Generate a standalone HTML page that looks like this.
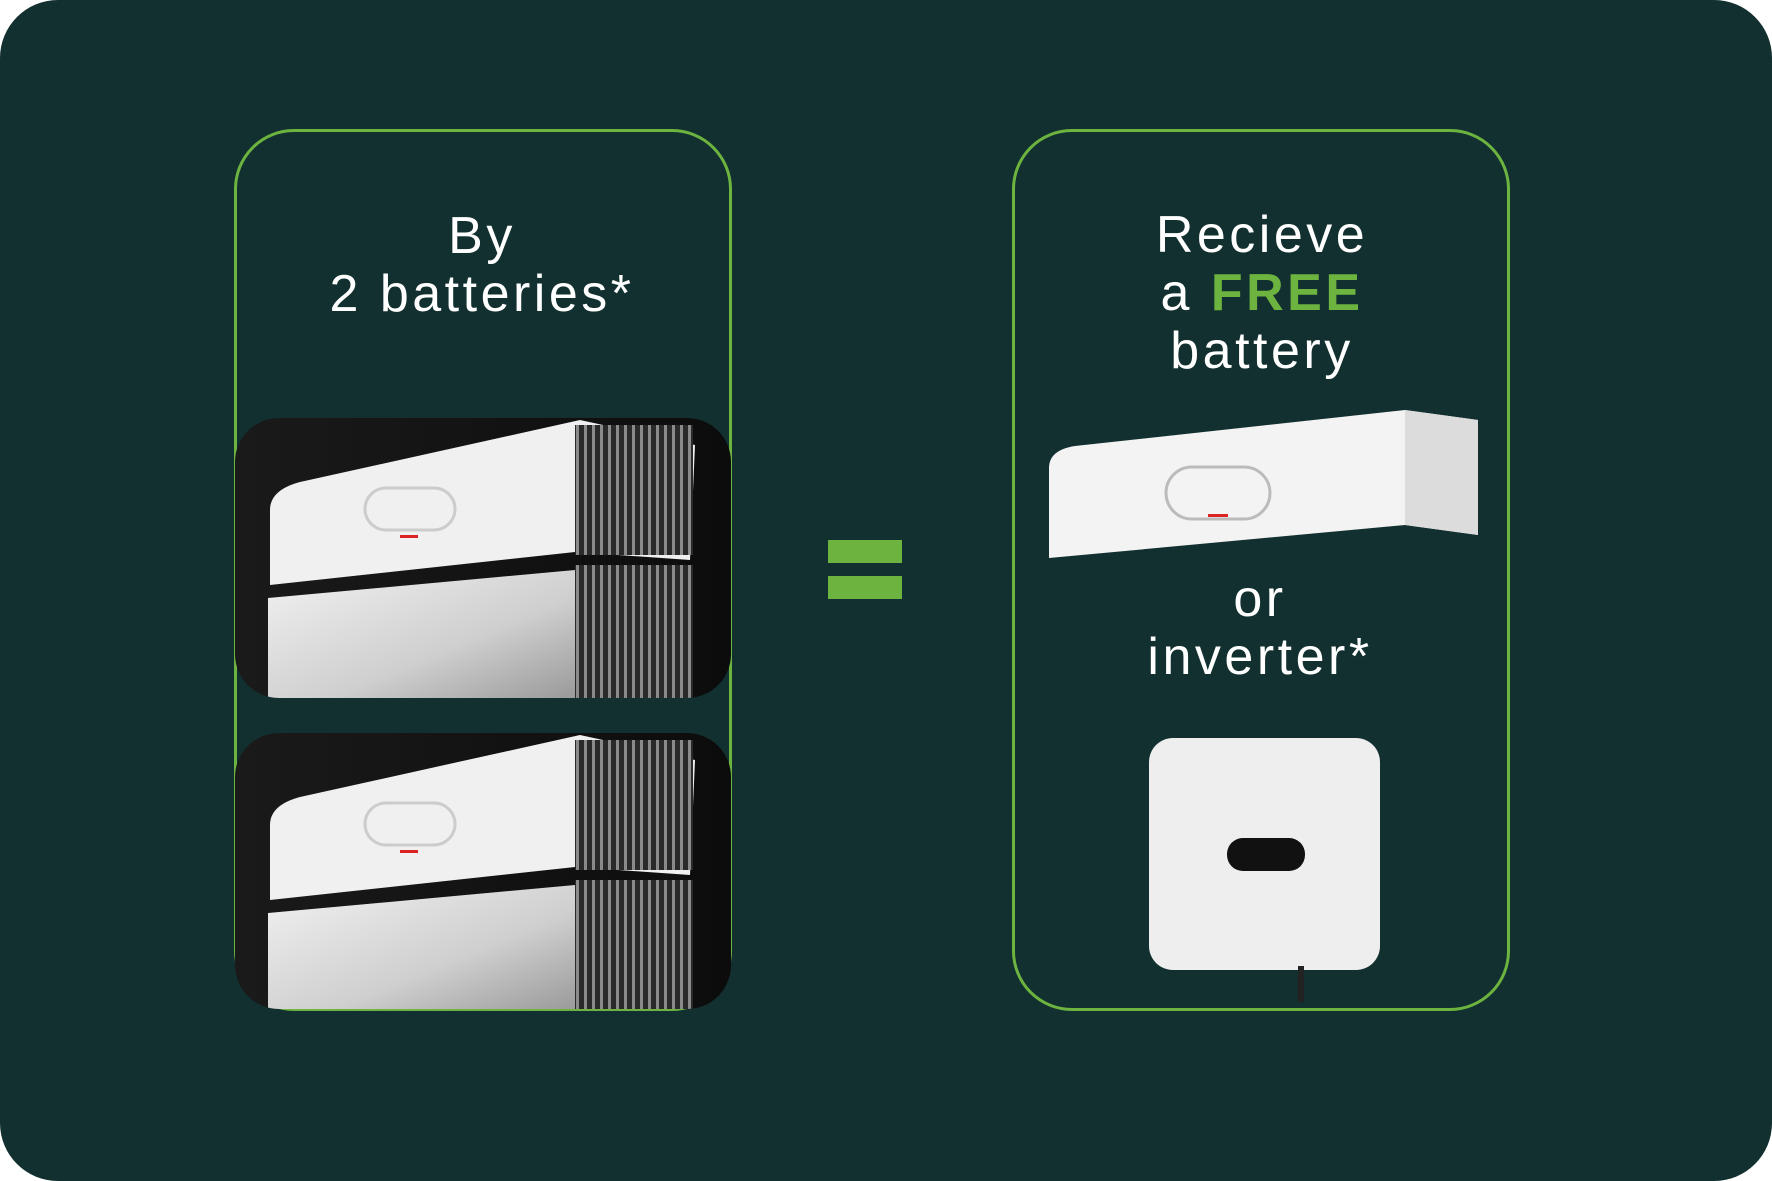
<!DOCTYPE html>
<html><head><meta charset="utf-8"><style>
html,body{margin:0;padding:0;background:#fff;}
#c{position:relative;width:1772px;height:1181px;background:#12302f;border-radius:58px;overflow:hidden;font-family:"Liberation Sans",sans-serif;color:#fff;}
.box{position:absolute;top:129px;width:498px;height:882px;border:3px solid #6cb33f;border-radius:60px;box-sizing:border-box;}
.t{position:absolute;width:500px;text-align:center;font-size:52px;line-height:58px;font-weight:500;letter-spacing:3.5px;}
.eq{position:absolute;left:828px;width:74px;height:23px;background:#6cb33f;}
</style></head><body><div id="c">
<div class="box" style="left:234px"></div>
<div class="box" style="left:1012px"></div>
<div class="t" style="left:232px;top:207px">By<br>2 batteries*</div>
<div class="t" style="left:1012px;top:206px">Recieve<br>a <b style="color:#6cb33f;font-weight:900">FREE</b><br>battery</div>
<div class="t" style="left:1010px;top:570px">or<br>inverter*</div>
<div class="eq" style="top:540px"></div>
<div class="eq" style="top:576px"></div>
<svg width="1772" height="1181" style="position:absolute;left:0;top:0">
<defs>
<linearGradient id="bg" x1="0" y1="0" x2="1" y2="0"><stop offset="0" stop-color="#1a1a1a"/><stop offset="1" stop-color="#0c0c0c"/></linearGradient>
<linearGradient id="w" x1="0" y1="0" x2="1" y2="1"><stop offset="0" stop-color="#f2f2f2"/><stop offset=".6" stop-color="#cfcfcf"/><stop offset="1" stop-color="#9a9a9a"/></linearGradient>
<pattern id="rib" width="8" height="10" patternUnits="userSpaceOnUse"><rect width="8" height="10" fill="#2a2a2a"/><rect width="3" height="10" fill="#8a8a8a"/></pattern>
<clipPath id="c1"><rect x="235" y="418" width="496" height="280" rx="44"/></clipPath>
<clipPath id="c2"><rect x="235" y="733" width="496" height="276" rx="44"/></clipPath>
</defs>
<g clip-path="url(#c1)">
<rect x="235" y="418" width="496" height="280" fill="url(#bg)"/>
<path d="M270 510 Q270 490 300 482 L580 420 L695 445 L690 560 L575 552 L270 585 Z" fill="#f0f0f0"/>
<rect x="575" y="425" width="118" height="130" fill="url(#rib)"/>
<path d="M268 598 L575 570 L575 698 L268 698 Z" fill="url(#w)"/>
<rect x="575" y="565" width="118" height="133" fill="url(#rib)"/>
<rect x="365" y="488" width="90" height="42" rx="21" fill="none" stroke="#ccc" stroke-width="3"/>
<rect x="400" y="535" width="18" height="3" fill="#d22"/>
</g>
<g clip-path="url(#c2)">
<rect x="235" y="733" width="496" height="276" fill="url(#bg)"/>
<path d="M270 825 Q270 805 300 797 L580 735 L695 760 L690 875 L575 867 L270 900 Z" fill="#f0f0f0"/>
<rect x="575" y="740" width="118" height="130" fill="url(#rib)"/>
<path d="M268 913 L575 885 L575 1011 L268 1011 Z" fill="url(#w)"/>
<rect x="575" y="880" width="118" height="131" fill="url(#rib)"/>
<rect x="365" y="803" width="90" height="42" rx="21" fill="none" stroke="#ccc" stroke-width="3"/>
<rect x="400" y="850" width="18" height="3" fill="#d22"/>
</g>
<path d="M1049 468 Q1049 450 1075 446 L1405 410 L1478 420 L1478 535 L1405 525 L1049 558 Z" fill="#f3f3f3"/>
<path d="M1405 410 L1478 420 L1478 535 L1405 525 Z" fill="#dcdcdc"/>
<rect x="1166" y="467" width="104" height="52" rx="26" fill="none" stroke="#bbb" stroke-width="3"/>
<rect x="1208" y="514" width="20" height="3" fill="#d22"/>
<rect x="1149" y="738" width="231" height="232" rx="24" fill="#eeeeee"/>
<rect x="1227" y="838" width="78" height="33" rx="16" fill="#111"/>
<rect x="1298" y="966" width="6" height="36" fill="#222"/>
</svg>
</div></body></html>
